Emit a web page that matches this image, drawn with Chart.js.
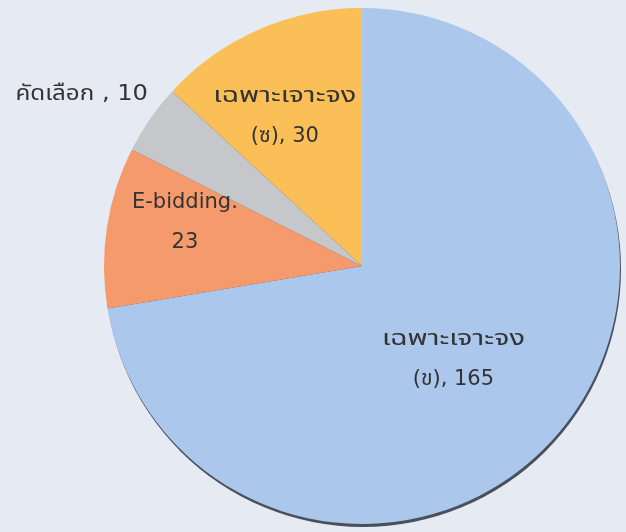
<!DOCTYPE html>
<html>
<head>
<meta charset="utf-8">
<script src="https://cdn.jsdelivr.net/npm/chart.js@4/dist/chart.umd.min.js"></script>
<style>
  html, body { margin: 0; padding: 0; background: #e6ebf3; }
  #wrap { width: 626px; height: 532px; }
</style>
</head>
<body>
<div id="wrap"><canvas id="pieCanvas" width="626" height="532"></canvas></div>
<script>
// dados do gráfico (ordem horária a partir do topo)
const categorias = ['เฉพาะเจาะจง (ข)', 'E-bidding', 'คัดเลือก', 'เฉพาะเจาะจง (ซ)'];
const valores = [165, 23, 10, 30];
const rotulos = [
    ['เฉพาะเจาะจง', '(ข), 165'],
    ['E-bidding.', '23'],
    ['คัดเลือก , 10'],
    ['เฉพาะเจาะจง', '(ซ), 30']
];
const cores = ['#abc7eb', '#f59a6c', '#c6c7ca', '#fbbf57'];

// sombra escura na borda de baixo
const sombraPlugin = {
    id: 'sombra',
    beforeDatasetsDraw(chart) {
        const arc = chart.getDatasetMeta(0).data[0];
        if (!arc) return;
        const ctx = chart.ctx;
        ctx.save();
        ctx.beginPath();
        ctx.arc(arc.x + 1, arc.y + 3, arc.outerRadius, 0, Math.PI * 2);
        ctx.fillStyle = '#4a4f5c';
        ctx.fill();
        ctx.restore();
    }
};

// rótulos dentro / fora das fatias
const rotulosPlugin = {
    id: 'rotulos',
    afterDatasetsDraw(chart, args, opts) {
        const ctx = chart.ctx;
        const meta = chart.getDatasetMeta(0);
        ctx.save();
        ctx.font = '21px Tahoma, "DejaVu Sans", "Noto Sans Thai", sans-serif';
        ctx.fillStyle = '#333333';
        ctx.textBaseline = 'middle';
        meta.data.forEach((arc, i) => {
            const ang = (arc.startAngle + arc.endAngle) / 2;
            const r = arc.outerRadius * opts.raio[i];
            const x = arc.x + Math.cos(ang) * r + opts.dx[i];
            const y = arc.y + Math.sin(ang) * r + opts.dy[i];
            const linhas = rotulos[i];
            ctx.textAlign = opts.alinhar[i];
            linhas.forEach((txt, k) => {
                const yy = y + (k - (linhas.length - 1) / 2) * opts.entreLinhas;
                // o tailandês sai mais estreito que no original, esticar na horizontal
                const sx = opts.esticar[i][k];
                ctx.save();
                ctx.translate(x, yy);
                ctx.scale(sx, 1);
                ctx.fillText(txt, 0, 0);
                ctx.restore();
            });
        });
        ctx.restore();
    }
};

const ctx = document.getElementById('pieCanvas').getContext('2d');
new Chart(ctx, {
    type: 'pie',
    data: {
        labels: categorias,
        datasets: [{
            data: valores,
            backgroundColor: cores,
            borderWidth: 0
        }]
    },
    options: {
        responsive: false,
        animation: false,
        layout: { padding: { left: 104, right: 6, top: 8, bottom: 8 } },
        plugins: {
            legend: { display: false },
            tooltip: { enabled: false },
            rotulos: {
                raio: [0.5, 0.71, 1.0, 0.59],
                dx: [-7, 4, -2, -16],
                dy: [10, -16, -24, -10],
                alinhar: ['center', 'center', 'right', 'center'],
                entreLinhas: 40,
                esticar: [[1.38, 1], [1, 1], [1.15], [1.38, 1]]
            }
        }
    },
    plugins: [sombraPlugin, rotulosPlugin]
});
</script>
</body>
</html>
